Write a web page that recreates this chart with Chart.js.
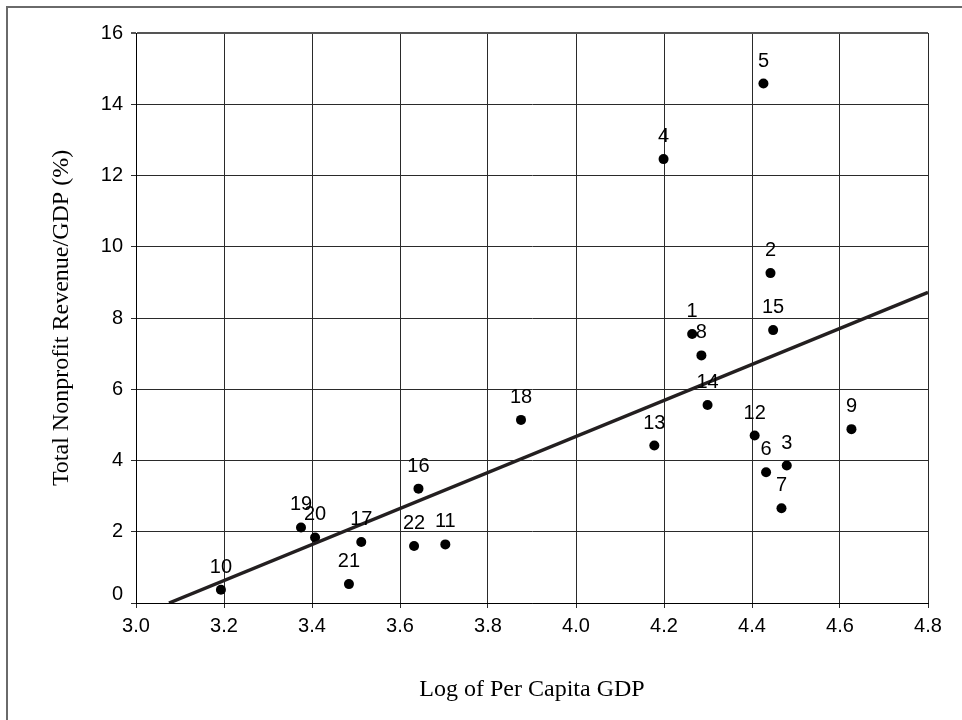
<!DOCTYPE html>
<html>
<head>
<meta charset="utf-8">
<script src="https://cdn.jsdelivr.net/npm/chart.js@4/dist/chart.umd.min.js"></script>
<style>
  html, body { margin: 0; padding: 0; background: #fff; }
  #wrap { position: relative; width: 962px; height: 720px; overflow: hidden; }
  #frame { position: absolute; left: 6px; top: 6px; width: 1000px; height: 800px;
           border-left: 2px solid #6a6a6a; border-top: 2px solid #6a6a6a; pointer-events: none; }
  canvas { display: block; }
</style>
</head>
<body>
<div id="wrap">
  <canvas id="c" width="962" height="720"></canvas>
  <div id="frame"></div>
</div>
<script>
// ---- data ----
const pointIds = ['1','2','3','4','5','6','7','8','9','10','11','12','13','14','15','16','17','18','19','20','21','22'];
const logGdp   = [4.264, 4.442, 4.479, 4.199, 4.426, 4.432, 4.467, 4.285, 4.626, 3.193, 3.703,
                  4.406, 4.178, 4.299, 4.448, 3.642, 3.512, 3.875, 3.375, 3.407, 3.484, 3.632];
const revenuePct = [7.55, 9.26, 3.86, 12.46, 14.58, 3.67, 2.66, 6.95, 4.88, 0.37, 1.645,
                  4.70, 4.42, 5.56, 7.66, 3.21, 1.71, 5.14, 2.12, 1.84, 0.53, 1.60];
const trendX = [3.075, 4.8];
const trendY = [0, 8.72];
const xTickValues = [3.0, 3.2, 3.4, 3.6, 3.8, 4.0, 4.2, 4.4, 4.6, 4.8];
const xTickLabels = ['3.0','3.2','3.4','3.6','3.8','4.0','4.2','4.4','4.6','4.8'];
const yTickValues = [0, 2, 4, 6, 8, 10, 12, 14, 16];
const yTickLabels = ['0','2','4','6','8','10','12','14','16'];
const xTitle = 'Log of Per Capita GDP';
const yTitle = 'Total Nonprofit Revenue/GDP (%)';

const scatterData = logGdp.map((x, i) => ({ x: x, y: revenuePct[i] }));
const trendData = trendX.map((x, i) => ({ x: x, y: trendY[i] }));

const pointLabelPlugin = {
  id: 'pointLabels',
  afterDatasetsDraw(chart) {
    const meta = chart.getDatasetMeta(1);
    const ctx = chart.ctx;
    ctx.save();
    ctx.font = '20px "Liberation Sans", Arial, sans-serif';
    ctx.fillStyle = '#000';
    ctx.textAlign = 'center';
    ctx.textBaseline = 'middle';
    meta.data.forEach((el, i) => {
      ctx.fillText(pointIds[i], el.x, el.y - 22.5);
    });
    ctx.restore();
  }
};

new Chart(document.getElementById('c'), {
  type: 'scatter',
  data: {
    datasets: [
      {
        type: 'line',
        data: trendData,
        borderColor: '#231f20',
        borderWidth: 3.5,
        pointRadius: 0,
        fill: false,
        order: 0
      },
      {
        type: 'scatter',
        data: scatterData,
        backgroundColor: '#000',
        borderWidth: 0,
        pointRadius: 5,
        order: 1
      }
    ]
  },
  options: {
    responsive: false,
    animation: false,
    devicePixelRatio: 1,
    layout: { padding: { left: 0, right: 34, top: 33, bottom: 0 } },
    plugins: { legend: { display: false }, tooltip: { enabled: false } },
    scales: {
      x: {
        type: 'linear',
        min: 3.0, max: 4.8,
        afterBuildTicks(scale) { scale.ticks = xTickValues.map(v => ({ value: v })); },
        afterFit(scale) { scale.height = 117; },
        ticks: {
          callback: (v, i) => xTickLabels[i],
          color: '#000',
          font: { family: '"Liberation Sans", Arial, sans-serif', size: 20 },
          padding: 6,
          maxRotation: 0
        },
        grid: { color: '#2a2a2a', lineWidth: 1, tickLength: 5, drawTicks: true },
        border: { color: '#000', width: 1 },
        title: {
          display: true, text: xTitle, color: '#000',
          font: { family: '"Liberation Serif", "Times New Roman", serif', size: 24 },
          padding: { top: 0, bottom: 15.6 }
        }
      },
      y: {
        type: 'linear',
        min: 0, max: 16,
        afterBuildTicks(scale) { scale.ticks = yTickValues.map(v => ({ value: v })); },
        afterFit(scale) { scale.width = 136; },
        ticks: {
          // the bottom label sits a little above its gridline, as in the source chart
          callback: (v, i) => (i === 0 ? [yTickLabels[i], ''] : yTickLabels[i]),
          color: '#000',
          font: { family: '"Liberation Sans", Arial, sans-serif', size: 20, lineHeight: 0.9 },
          padding: 8
        },
        grid: {
          color: (c) => (c.tick && c.tick.value === 16) ? '#555' : '#2a2a2a',
          lineWidth: (c) => (c.tick && c.tick.value === 16) ? 2 : 1,
          tickLength: 5, drawTicks: true
        },
        border: { color: '#000', width: 1 },
        title: {
          display: true, text: yTitle, color: '#000',
          font: { family: '"Liberation Serif", "Times New Roman", serif', size: 24 },
          padding: { top: 47, bottom: 0 }
        }
      }
    }
  },
  plugins: [pointLabelPlugin]
});
</script>
</body>
</html>
